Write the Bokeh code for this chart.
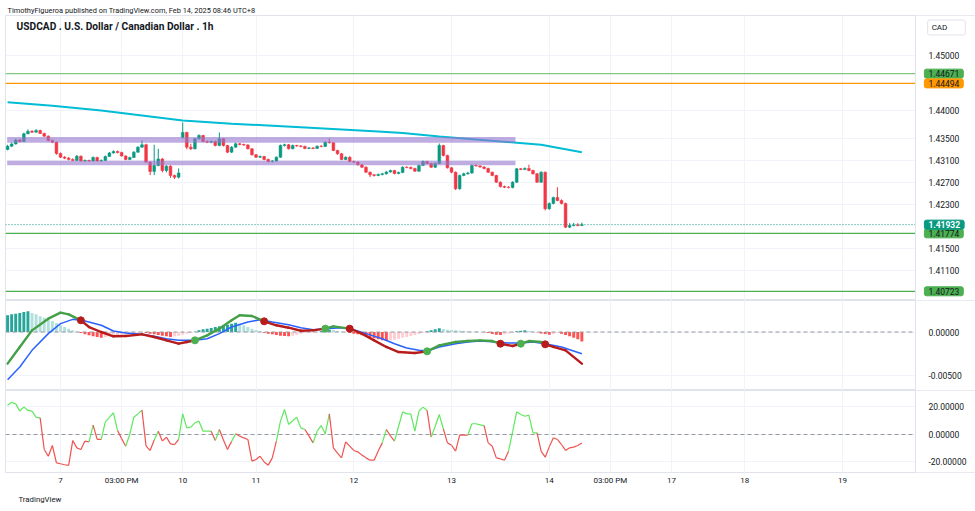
import numpy as np
from bokeh.plotting import figure
from bokeh.models import Range1d, FixedTicker, Label, ColumnDataSource, PrintfTickFormatter, Title
from bokeh.layouts import column
from bokeh.embed import file_html
from bokeh.resources import INLINE

# ---------------- data ----------------
bars = list(range(1, 143))   # hourly bar number, Feb 6 10:00 (UTC+8) = 0

bar_open = [1.43296, 1.43355, 1.43395, 1.43468, 1.43440, 1.43580, 1.43625, 1.43609, 1.43640, 1.43586,
            1.43537, 1.43459, 1.43428, 1.43223, 1.43156, 1.43138, 1.43114, 1.43096, 1.43174, 1.43087,
            1.43096, 1.43087, 1.43150, 1.43087, 1.43096, 1.43168, 1.43232, 1.43259, 1.43241, 1.43177,
            1.43114, 1.43150, 1.43247, 1.43337, 1.43381, 1.43066, 1.42896, 1.43006, 1.43123, 1.42914,
            1.42993, 1.42824, 1.42793, 1.43513, 1.43604, 1.43337, 1.43308, 1.43489, 1.43549, 1.43440,
            1.43428, 1.43440, 1.43368, 1.43489, 1.43368, 1.43247, 1.43337, 1.43399, 1.43386, 1.43377,
            1.43308, 1.43199, 1.43156, 1.43168, 1.43114, 1.43078, 1.43087, 1.43156, 1.43368, 1.43381,
            1.43308, 1.43368, 1.43359, 1.43350, 1.43314, 1.43323, 1.43314, 1.43355, 1.43350, 1.43428,
            1.43417, 1.43277, 1.43217, 1.43114, 1.43156, 1.43078, 1.43066, 1.43018, 1.42974, 1.42883,
            1.42836, 1.42824, 1.42842, 1.42854, 1.42887, 1.42914, 1.42860, 1.42878, 1.42974, 1.42969,
            1.42951, 1.42902, 1.43006, 1.43078, 1.43042, 1.42974, 1.43042, 1.43368, 1.43187, 1.42963,
            1.42883, 1.42582, 1.42824, 1.42854, 1.42869, 1.43006, 1.42997, 1.42978, 1.42951, 1.42883,
            1.42824, 1.42702, 1.42624, 1.42611, 1.42606, 1.42702, 1.42945, 1.42933, 1.42951, 1.42914,
            1.42854, 1.42702, 1.42883, 1.42220, 1.42316, 1.42424, 1.42370, 1.42316, 1.41886, 1.41917,
            1.41926, 1.41917]
bar_close = [1.43355, 1.43395, 1.43468, 1.43440, 1.43580, 1.43625, 1.43609, 1.43640, 1.43586, 1.43537,
             1.43459, 1.43428, 1.43223, 1.43156, 1.43138, 1.43114, 1.43096, 1.43174, 1.43087, 1.43096,
             1.43087, 1.43150, 1.43087, 1.43096, 1.43168, 1.43232, 1.43259, 1.43241, 1.43177, 1.43114,
             1.43150, 1.43247, 1.43337, 1.43381, 1.43066, 1.42896, 1.43006, 1.43123, 1.42914, 1.42993,
             1.42824, 1.42793, 1.42869, 1.43604, 1.43337, 1.43308, 1.43489, 1.43549, 1.43440, 1.43428,
             1.43440, 1.43368, 1.43489, 1.43368, 1.43247, 1.43337, 1.43399, 1.43386, 1.43377, 1.43308,
             1.43199, 1.43156, 1.43168, 1.43114, 1.43078, 1.43087, 1.43156, 1.43368, 1.43381, 1.43308,
             1.43368, 1.43359, 1.43350, 1.43314, 1.43323, 1.43314, 1.43355, 1.43350, 1.43428, 1.43417,
             1.43277, 1.43217, 1.43114, 1.43156, 1.43078, 1.43066, 1.43018, 1.42974, 1.42883, 1.42836,
             1.42824, 1.42842, 1.42854, 1.42887, 1.42914, 1.42860, 1.42878, 1.42974, 1.42969, 1.42951,
             1.42902, 1.43006, 1.43078, 1.43042, 1.42974, 1.43042, 1.43368, 1.43187, 1.42963, 1.42883,
             1.42582, 1.42824, 1.42854, 1.42869, 1.43006, 1.42997, 1.42978, 1.42951, 1.42883, 1.42824,
             1.42702, 1.42624, 1.42611, 1.42606, 1.42702, 1.42945, 1.42933, 1.42951, 1.42914, 1.42854,
             1.42702, 1.42883, 1.42220, 1.42316, 1.42424, 1.42370, 1.42316, 1.41886, 1.41917, 1.41926,
             1.41917, 1.41932]
bar_high = [1.43380, 1.43420, 1.43490, 1.43485, 1.43600, 1.43660, 1.43645, 1.43665, 1.43655, 1.43600,
            1.43550, 1.43475, 1.43440, 1.43240, 1.43175, 1.43160, 1.43135, 1.43195, 1.43185, 1.43115,
            1.43110, 1.43170, 1.43165, 1.43115, 1.43185, 1.43250, 1.43280, 1.43275, 1.43255, 1.43190,
            1.43165, 1.43265, 1.43355, 1.43460, 1.43400, 1.43080, 1.43381, 1.43308, 1.43140, 1.43010,
            1.43010, 1.42840, 1.42951, 1.43785, 1.43620, 1.43400, 1.43505, 1.43570, 1.43560, 1.43460,
            1.43460, 1.43455, 1.43604, 1.43500, 1.43380, 1.43355, 1.43420, 1.43415, 1.43400, 1.43390,
            1.43320, 1.43215, 1.43185, 1.43180, 1.43130, 1.43105, 1.43170, 1.43385, 1.43400, 1.43395,
            1.43385, 1.43380, 1.43375, 1.43365, 1.43340, 1.43340, 1.43370, 1.43375, 1.43445, 1.43495,
            1.43430, 1.43290, 1.43230, 1.43170, 1.43170, 1.43095, 1.43080, 1.43030, 1.42990, 1.42895,
            1.42850, 1.42860, 1.42870, 1.42905, 1.42930, 1.42925, 1.42895, 1.42990, 1.42990, 1.42985,
            1.42965, 1.43020, 1.43095, 1.43090, 1.43055, 1.43060, 1.43404, 1.43380, 1.43200, 1.42975,
            1.42895, 1.42840, 1.42875, 1.42890, 1.43025, 1.43025, 1.43010, 1.42990, 1.42965, 1.42895,
            1.42835, 1.42715, 1.42640, 1.42630, 1.42720, 1.42960, 1.42960, 1.42970, 1.43020, 1.42930,
            1.42870, 1.42900, 1.42895, 1.42335, 1.42440, 1.42610, 1.42390, 1.42330, 1.41960, 1.41965,
            1.41960, 1.41970]
bar_low = [1.43280, 1.43340, 1.43385, 1.43425, 1.43430, 1.43570, 1.43595, 1.43600, 1.43575, 1.43525,
           1.43445, 1.43410, 1.43200, 1.43140, 1.43120, 1.43095, 1.43080, 1.43085, 1.43075, 1.43070,
           1.43070, 1.43080, 1.43075, 1.43075, 1.43085, 1.43160, 1.43220, 1.43225, 1.43165, 1.43100,
           1.43100, 1.43140, 1.43235, 1.43325, 1.43050, 1.42830, 1.42830, 1.42990, 1.42880, 1.42880,
           1.42780, 1.42760, 1.42770, 1.43490, 1.43300, 1.43285, 1.43295, 1.43475, 1.43425, 1.43410,
           1.43410, 1.43350, 1.43355, 1.43350, 1.43230, 1.43235, 1.43325, 1.43370, 1.43360, 1.43295,
           1.43185, 1.43140, 1.43140, 1.43100, 1.43060, 1.43060, 1.43075, 1.43145, 1.43350, 1.43295,
           1.43300, 1.43345, 1.43335, 1.43300, 1.43300, 1.43300, 1.43305, 1.43335, 1.43340, 1.43405,
           1.43265, 1.43200, 1.43100, 1.43100, 1.43065, 1.43050, 1.43000, 1.42960, 1.42870, 1.42793,
           1.42805, 1.42810, 1.42825, 1.42840, 1.42875, 1.42845, 1.42845, 1.42865, 1.42955, 1.42935,
           1.42890, 1.42890, 1.42995, 1.43030, 1.42960, 1.42960, 1.43030, 1.43170, 1.42950, 1.42865,
           1.42560, 1.42565, 1.42810, 1.42840, 1.42855, 1.42985, 1.42965, 1.42935, 1.42870, 1.42810,
           1.42690, 1.42605, 1.42595, 1.42590, 1.42590, 1.42690, 1.42920, 1.42920, 1.42900, 1.42840,
           1.42690, 1.42690, 1.42190, 1.42200, 1.42300, 1.42355, 1.42300, 1.41870, 1.41870, 1.41900,
           1.41900, 1.41905]

ema_idx = [1, 12, 24, 36, 44, 56, 73, 92, 98, 107, 126, 132, 142]
ema_val = [1.44153, 1.44090, 1.44003, 1.43894, 1.43821, 1.43763, 1.43700, 1.43622, 1.43595,
           1.43530, 1.43417, 1.43381, 1.43246]

zone_from = [0.9, 0.9]
zone_to = [125.7, 125.7]
zone_top = [1.43520, 1.43090]
zone_bottom = [1.43416, 1.43010]

level_price = [1.44671, 1.44494, 1.41774, 1.40723]
level_text = ["1.44671", "1.44494", "1.41774", "1.40723"]
last_price = 1.41932
last_text = "1.41932"

macd_hist = [0.00194, 0.00205, 0.00213, 0.00221, 0.00233, 0.00240, 0.00221, 0.00205, 0.00182, 0.00167,
             0.00143, 0.00128, 0.00105, 0.00078, 0.00058, 0.00039, 0.00019, 0.00004, -0.00012, -0.00027,
             -0.00039, -0.00050, -0.00058, -0.00066, -0.00058, -0.00050, -0.00043, -0.00035, -0.00027, -0.00019,
             -0.00016, -0.00012, -0.00008, -0.00004, -0.00012, -0.00019, -0.00027, -0.00035, -0.00043, -0.00050,
             -0.00058, -0.00050, -0.00043, -0.00031, -0.00019, -0.00008, 0.00003, 0.00019, 0.00031, 0.00039,
             0.00047, 0.00058, 0.00066, 0.00074, 0.00085, 0.00097, 0.00109, 0.00097, 0.00078, 0.00058,
             0.00039, 0.00023, 0.00008, -0.00008, -0.00019, -0.00027, -0.00035, -0.00043, -0.00047, -0.00050,
             -0.00043, -0.00031, -0.00019, -0.00012, -0.00008, -0.00004, -0.00001, 0.00012, 0.00019, 0.00027,
             0.00023, 0.00012, 0.00004, 0.00001, -0.00012, -0.00019, -0.00027, -0.00039, -0.00050, -0.00062,
             -0.00074, -0.00085, -0.00097, -0.00105, -0.00097, -0.00089, -0.00078, -0.00066, -0.00058, -0.00047,
             -0.00035, -0.00023, -0.00012, 0.00008, 0.00019, 0.00031, 0.00043, 0.00035, 0.00027, 0.00023,
             0.00019, 0.00016, 0.00012, 0.00008, 0.00004, 0.00004, 0.00001, -0.00004, -0.00012, -0.00023,
             -0.00031, -0.00035, -0.00023, -0.00016, -0.00008, 0.00008, 0.00016, 0.00019, 0.00012, 0.00004,
             -0.00004, -0.00016, -0.00023, -0.00031, -0.00023, -0.00012, -0.00019, -0.00035, -0.00050, -0.00066,
             -0.00085, -0.00109]

macd_idx = [1, 4, 7, 11, 14, 16, 19, 21, 24, 27, 30, 34, 37, 40, 43, 45, 47, 50, 53, 56,
            58, 61, 64, 67, 70, 73, 76, 79, 81, 85, 88, 91, 94, 97, 101, 104, 107, 111, 114, 117,
            120, 122, 125, 127, 129, 132, 133, 135, 138, 142]
macd_val = [-0.00368, -0.00174, 0.00019, 0.00155, 0.00225, 0.00205, 0.00136, 0.00058, 0.00000, -0.00050,
            -0.00047, -0.00027, -0.00058, -0.00097, -0.00136, -0.00116, -0.00097, -0.00039, 0.00039, 0.00136,
            0.00194, 0.00186, 0.00124, 0.00078, 0.00050, 0.00015, 0.00019, 0.00039, 0.00066, 0.00039,
            -0.00019, -0.00097, -0.00174, -0.00233, -0.00244, -0.00225, -0.00155, -0.00116, -0.00105, -0.00097,
            -0.00105, -0.00136, -0.00163, -0.00136, -0.00105, -0.00116, -0.00143, -0.00174, -0.00213, -0.00368]
signal_idx = [1, 4, 7, 11, 14, 17, 20, 24, 27, 30, 34, 37, 40, 43, 47, 50, 53, 56, 60, 63,
              66, 70, 73, 76, 79, 83, 86, 89, 93, 96, 99, 102, 104, 107, 111, 114, 117, 120, 124, 127,
              130, 133, 137, 142]
signal_val = [-0.00554, -0.00407, -0.00213, -0.00019, 0.00097, 0.00147, 0.00128, 0.00078, 0.00012, -0.00012,
              -0.00027, -0.00050, -0.00078, -0.00097, -0.00097, -0.00078, -0.00019, 0.00058, 0.00116, 0.00143,
              0.00116, 0.00085, 0.00050, 0.00027, 0.00039, 0.00050, 0.00027, -0.00019, -0.00078, -0.00136,
              -0.00186, -0.00213, -0.00221, -0.00174, -0.00136, -0.00116, -0.00105, -0.00112, -0.00128, -0.00128,
              -0.00116, -0.00136, -0.00174, -0.00252]
cross_idx = [19, 47, 64, 79, 85, 104, 122, 127, 133]
cross_up = [False, True, False, True, False, True, False, True, False]

osc_val = [21.3, 23.5, 22.3, 17.0, 20.1, 17.5, 17.0, 12.5, 12.1, -10.9,
           -15.8, -8.0, -20.6, -21.3, -22.0, -22.5, -4.4, -9.7, -10.9, -4.8,
           -5.3, 6.8, -3.6, -3.6, 9.2, 12.5, 15.8, 2.9, -3.0, -8.5,
           0.0, 12.6, 15.0, 17.7, -8.5, -11.6, -4.0, 2.4, -4.8, -1.9,
           -6.8, -7.3, -3.6, 15.0, 4.8, 5.3, 8.5, 9.7, 2.4, 2.4,
           2.4, -4.4, 3.6, -4.0, -10.9, -5.0, 0.5, -1.2, -2.5, -3.6,
           -19.4, -18.2, -15.8, -20.0, -22.3, -17.0, -4.8, 9.7, 18.2, 7.3,
           10.0, 12.6, 4.8, 3.6, -1.0, -6.1, 2.4, 6.5, 0.5, 15.0,
           -9.7, -13.5, -17.0, -5.3, -8.5, -11.6, -12.6, -15.0, -17.0, -18.7,
           -18.7, -12.0, -6.1, 3.6, -1.0, -4.8, 6.0, 16.5, 15.0, 15.0,
           2.4, 17.0, 19.9, 17.5, -1.9, 6.0, 14.5, 4.0, -6.1, -7.8,
           -12.1, -0.5, -0.5, -0.5, 7.8, 7.8, 7.0, 6.5, -6.1, -8.5,
           -17.0, -17.7, -18.7, -12.1, 2.0, 16.5, 14.5, 13.3, 14.1, 1.2,
           1.2, -12.1, -16.5, -9.0, -2.4, -3.6, -7.3, -11.6, -9.7, -9.2,
           -8.0, -6.1]

x_tick_idx = [14, 29, 44, 62, 86, 110, 134, 149, 164, 182, 206]
x_tick_labels = ["7", "03:00 PM", "10", "11", "12", "13", "14", "03:00 PM", "17", "18", "19"]
price_ticks = [1.45, 1.44, 1.435, 1.431, 1.427, 1.423, 1.415, 1.411]
macd_ticks = [0.0, -0.005]
osc_ticks = [20, 0, -20]

header_text = "TimothyFigueroa published on TradingView.com, Feb 14, 2025 08:46 UTC+8"
title_text = "USDCAD . U.S. Dollar / Canadian Dollar . 1h"

# ---------------- styling ----------------
FONT = "Roboto"
TXT = "#131722"
GRID = "#f0f3fa"
BORDER = "#e0e3eb"
UP = "#089981"
DOWN = "#f23645"
X0, X1 = 0.49, 238.65     # visible bar span of the window
AXIS_AT = 223.9           # bar position of the price-scale edge
TAG_X = 226.1             # bar position of the price tags

xr = Range1d(X0, X1)


def base(height, yr, top=0, bottom=0, xaxis=False):
    p = figure(width=975, height=height, x_range=xr, y_range=yr, output_backend="svg",
               toolbar_location=None, x_axis_location="below" if xaxis else None,
               y_axis_location="right", min_border_left=5, min_border_right=0,
               min_border_top=top, min_border_bottom=bottom)
    p.outline_line_color = BORDER
    p.background_fill_color = "white"
    p.border_fill_color = "white"
    ax = p.yaxis[0]
    ax.fixed_location = AXIS_AT
    ax.axis_line_color = BORDER
    ax.major_tick_line_color = None
    ax.minor_tick_line_color = None
    ax.major_tick_out = 0
    ax.major_tick_in = 0
    ax.minor_tick_out = 0
    ax.major_label_standoff = 13
    ax.major_label_text_font_size = "8.5px"
    ax.major_label_text_font = FONT
    ax.major_label_text_color = TXT
    ax.formatter = PrintfTickFormatter(format="%.5f")
    p.ygrid.grid_line_color = GRID
    p.xgrid.ticker = FixedTicker(ticks=x_tick_idx)
    p.xgrid.grid_line_color = GRID
    # white price-scale strip (hides grid lines right of the scale edge)
    p.quad(left=[AXIS_AT], right=[X1 + 2], bottom=[yr.start], top=[yr.end],
           fill_color="white", line_color=None)
    return p


def tag(p, y, text, bg, fg, bold=False):
    p.add_layout(Label(x=TAG_X, y=y, text=text, text_font=FONT, text_font_size="8.5px",
                       text_color=fg, text_baseline="middle", text_align="left",
                       text_font_style="bold" if bold else "normal",
                       background_fill_color=bg, border_line_color=bg,
                       padding=dict(left=4, right=4, top=1, bottom=1), border_radius=2))


# ---------------- main price pane ----------------
p1 = base(300, Range1d(1.405559, 1.457256), top=15)
p1.yaxis[0].ticker = FixedTicker(ticks=price_ticks)
p1.title.text = header_text
p1.title.align = "left"
p1.title.offset = 2
p1.title.standoff = 2
p1.title.text_font = FONT
p1.title.text_font_size = "7.4px"
p1.title.text_font_style = "normal"
p1.title.text_color = TXT

level_line = ["#81c784", "#ff9800", "#4caf50", "#4caf50"]
n = len(level_price)
p1.segment(x0=[X0] * n, x1=[AXIS_AT] * n, y0=level_price, y1=level_price,
           line_color=level_line, line_width=1.2)
p1.segment(x0=[X0], x1=[AXIS_AT], y0=[last_price], y1=[last_price], line_color=UP,
           line_width=1, line_dash="1 2")

p1.line(ema_idx, ema_val, line_color="#00bcd4", line_width=2)

inc = [c >= o for o, c in zip(bar_open, bar_close)]
src = ColumnDataSource(dict(
    x=bars, h=bar_high, l=bar_low,
    top=[max(o, c) for o, c in zip(bar_open, bar_close)],
    bottom=[min(o, c) for o, c in zip(bar_open, bar_close)],
    color=[UP if u else DOWN for u in inc]))
p1.segment(x0="x", y0="h", x1="x", y1="l", line_color="color", line_width=1, source=src)
p1.vbar(x="x", width=0.68, top="top", bottom="bottom", fill_color="color", line_color="color",
        line_width=0.5, source=src)

p1.quad(left=zone_from, right=zone_to, top=zone_top, bottom=zone_bottom,
        fill_color="#9575cd", fill_alpha=0.6, line_color=None)

tag_bg = ["#4caf50", "#ff9800", "#4caf50", "#4caf50"]
for lv, tx, bg in zip(level_price, level_text, tag_bg):
    tag(p1, lv, tx, bg, TXT)
tag(p1, last_price, last_text, UP, "white", bold=True)

p1.add_layout(Label(x=3.2, y=1.45526, text=title_text, text_font=FONT, text_font_size="10.2px",
                    text_font_style="bold", text_color=TXT, text_baseline="middle"))
p1.add_layout(Label(x=226.9, y=1.45508, text="CAD", text_font=FONT, text_font_size="8px",
                    text_color=TXT, text_baseline="middle", border_line_color=BORDER,
                    background_fill_color="white",
                    padding=dict(left=4, right=18, top=3, bottom=3), border_radius=2))

# ---------------- MACD pane ----------------
p2 = base(90, Range1d(-0.006802, 0.003663))
p2.yaxis[0].ticker = FixedTicker(ticks=macd_ticks)

hist_col = []
for k, v in enumerate(macd_hist):
    prev = macd_hist[k - 1] if k > 0 else v
    if v >= 0:
        hist_col.append("#26a69a" if v >= prev else "#b2dfdb")
    else:
        hist_col.append("#ff5252" if v <= prev else "#ffcdd2")
p2.vbar(x=bars, top=macd_hist, bottom=0, width=0.72, fill_color=hist_col, line_color=None)
p2.segment(x0=[X0], x1=[AXIS_AT], y0=[0], y1=[0], line_color="#9598a1", line_width=1,
           line_dash="4 3")
p2.line(signal_idx, signal_val, line_color="#2962ff", line_width=1.5)

seg_x0, seg_y0, seg_x1, seg_y1, seg_c = [], [], [], [], []
for k in range(len(macd_idx) - 1):
    state = True
    for ci, up in zip(cross_idx, cross_up):
        if ci <= macd_idx[k]:
            state = up
    seg_x0.append(macd_idx[k]); seg_y0.append(macd_val[k])
    seg_x1.append(macd_idx[k + 1]); seg_y1.append(macd_val[k + 1])
    seg_c.append("#43a047" if state else "#b71c1c")
p2.segment(x0=seg_x0, y0=seg_y0, x1=seg_x1, y1=seg_y1, line_color=seg_c, line_width=2.4,
           line_cap="round")
dot_y = [macd_val[macd_idx.index(ci)] for ci in cross_idx]
dot_c = ["#4caf50" if up else "#b71c1c" for up in cross_up]
p2.scatter(cross_idx, dot_y, size=7, fill_color=dot_c, line_color=dot_c)

# ---------------- oscillator pane ----------------
p3 = base(121, Range1d(-27.64, 32.0), bottom=39, xaxis=True)
p3.yaxis[0].ticker = FixedTicker(ticks=osc_ticks)
xa = p3.xaxis[0]
xa.ticker = FixedTicker(ticks=x_tick_idx)
xa.major_label_overrides = {t: s for t, s in zip(x_tick_idx, x_tick_labels)}
xa.axis_line_color = None
xa.major_tick_line_color = None
xa.minor_tick_line_color = None
xa.major_tick_out = 0
xa.major_tick_in = 0
xa.minor_tick_out = 0
xa.major_label_standoff = 3
xa.major_label_text_font = FONT
xa.major_label_text_font_size = "8px"
xa.major_label_text_color = TXT
p3.segment(x0=[X0], x1=[AXIS_AT], y0=[0], y1=[0], line_color="#9598a1", line_width=1,
           line_dash="4 3")
o_col = ["#5ee85e" if v >= 0 else "#ef5350" for v in osc_val[1:]]
p3.segment(x0=bars[:-1], y0=osc_val[:-1], x1=bars[1:], y1=osc_val[1:], line_color=o_col,
           line_width=1.2)
p3.add_layout(Title(text="TradingView", align="left", offset=13, standoff=10, text_font=FONT,
                    text_font_size="7.8px", text_font_style="normal", text_color=TXT), "below")

layout = column(p1, p2, p3, spacing=0)
open("out.html", "w").write(file_html(layout, INLINE))
